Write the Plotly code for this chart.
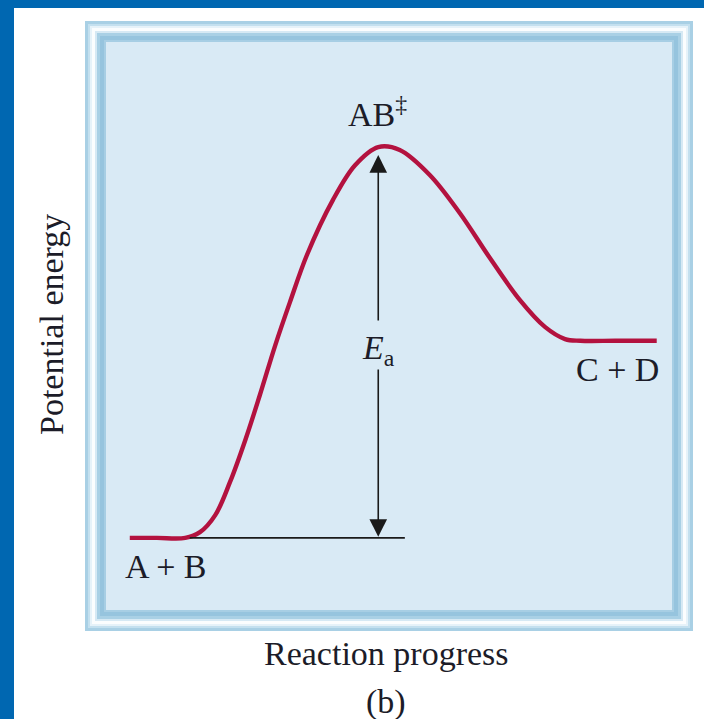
import plotly.graph_objects as go

# ---- data (arbitrary units: reaction progress 0-100, potential energy 0-100) ----
progress = [4.2, 9.0, 14.0, 16.6, 19.3, 21.9, 24.6, 27.2, 29.9, 32.5, 35.5, 40.1, 44.0, 48.1,
            51.9, 57.2, 62.5, 67.8, 73.1, 77.6, 81.1, 83.8, 90.0, 97.3]
energy = [12.7, 12.7, 12.7, 13.7, 16.7, 22.5, 29.9, 37.9, 46.6, 54.2, 62.5, 72.2, 78.3, 81.5,
          81.0, 76.6, 69.9, 62.0, 54.6, 49.8, 47.7, 47.4, 47.4, 47.4]
reactant_energy = 12.7
ts_energy = 81.5
product_energy = 47.4
ts_progress = 48.1

labels = {"reactants": "A + B", "ts": "AB<sup>‡</sup>", "products": "C + D",
          "ea": "<i>E</i><sub>a</sub>", "xtitle": "Reaction progress",
          "ytitle": "Potential energy", "caption": "(b)"}

W, H = 704, 719
PL, PR, PT, PB = 106, 672, 42, 610  # inner panel in pixels


def px(x):
    return (x - PL) / (PR - PL)


def py(y):
    return (PB - y) / (PB - PT)


fig = go.Figure()
fig.add_trace(go.Scatter(x=progress, y=energy, mode="lines",
                         line=dict(color="#b3123f", width=4.4, shape="spline", smoothing=1.0),
                         hoverinfo="skip", showlegend=False))

shapes = []
# blue page border (left + top)
shapes.append(dict(type="rect", xref="paper", yref="paper", x0=px(-5), x1=px(14), y0=py(H + 5), y1=py(-5),
                   fillcolor="#0067b1", line=dict(width=0), layer="below"))
shapes.append(dict(type="rect", xref="paper", yref="paper", x0=px(-5), x1=px(W + 5), y0=py(8), y1=py(-5),
                   fillcolor="#0067b1", line=dict(width=0), layer="below"))
# frame bands (outer -> inner)
bands = [(0, "#a9d0e5"), (3, "#c4e0ef"), (5, "#e6f2f9"), (7, "#fbfdfe"), (10, "#d6e9f4"),
         (12, "#a9d0e5"), (15, "#96c4de"), (19, "#a7cee4")]
ox0, oy0, ox1, oy1 = 85, 21, 693, 631
for off, col in bands:
    shapes.append(dict(type="rect", xref="paper", yref="paper",
                       x0=px(ox0 + off), x1=px(ox1 - off), y0=py(oy1 - off), y1=py(oy0 + off),
                       fillcolor=col, line=dict(width=0), layer="below"))
# panel
shapes.append(dict(type="rect", xref="paper", yref="paper", x0=0, x1=1, y0=0, y1=1,
                   fillcolor="#d9eaf5", line=dict(width=0), layer="below"))
# reactant baseline
shapes.append(dict(type="line", xref="x", yref="y", x0=14.8, x1=52.8, y0=reactant_energy, y1=reactant_energy,
                   line=dict(color="#1a1a1a", width=1.6)))

font = dict(family="Liberation Serif, Times New Roman, serif", size=34, color="#1c1c28")
C = dict(xanchor="center", yanchor="middle", showarrow=False, font=font)
annotations = [
    dict(x=ts_progress, y=ts_energy - 1.4, ax=ts_progress, ay=50.7, xref="x", yref="y", axref="x", ayref="y",
         text="", showarrow=True, arrowhead=2, arrowsize=2.2, arrowwidth=1.6, arrowcolor="#1a1a1a"),
    dict(x=ts_progress, y=reactant_energy + 0.2, ax=ts_progress, ay=42.6, xref="x", yref="y", axref="x", ayref="y",
         text="", showarrow=True, arrowhead=2, arrowsize=2.2, arrowwidth=1.6, arrowcolor="#1a1a1a"),
    dict(x=ts_progress, y=45.8, xref="x", yref="y", text=labels["ea"], **C),
    dict(x=47.9, y=87.7, xref="x", yref="y", text=labels["ts"], **C),
    dict(x=10.6, y=7.7, xref="x", yref="y", text=labels["reactants"], **C),
    dict(x=90.3, y=42.4, xref="x", yref="y", text=labels["products"], **C),
    dict(x=px(386), y=py(653), xref="paper", yref="paper", text=labels["xtitle"], **C),
    dict(x=px(386), y=py(702), xref="paper", yref="paper", text=labels["caption"], **C),
    dict(x=px(52), y=py(325), xref="paper", yref="paper", text=labels["ytitle"], textangle=-90, **C),
]

fig.update_layout(
    width=W, height=H, autosize=False,
    margin=dict(l=PL, r=W - PR, t=PT, b=H - PB, pad=0),
    paper_bgcolor="white", plot_bgcolor="rgba(0,0,0,0)",
    xaxis=dict(range=[0, 100], visible=False, fixedrange=True),
    yaxis=dict(range=[0, 100], visible=False, fixedrange=True),
    shapes=shapes, annotations=annotations, showlegend=False,
)

fig.write_html("out.html", config={"displayModeBar": False},
               post_script="document.body.style.margin='0';document.body.style.overflow='hidden';")
